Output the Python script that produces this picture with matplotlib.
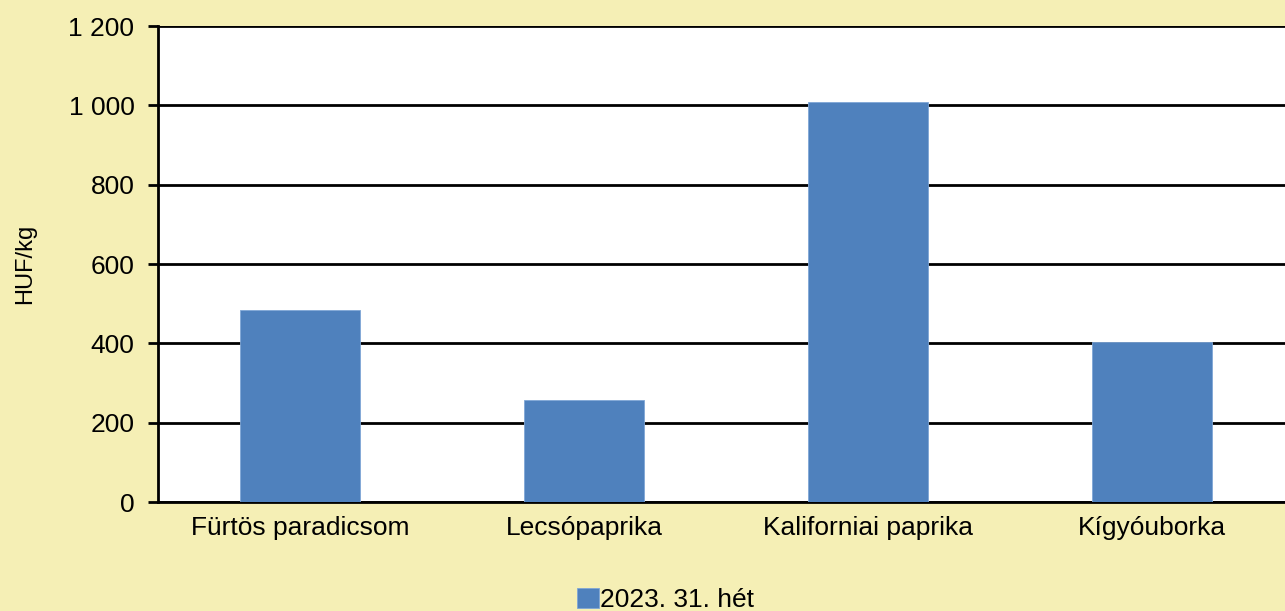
import matplotlib
matplotlib.use("Agg")
import matplotlib.pyplot as plt
from matplotlib.ticker import FuncFormatter

categories = ["Fürtös paradicsom", "Lecsópaprika", "Kaliforniai paprika", "Kígyóuborka"]
values = [484, 257, 1008, 403]
series_name = "2023. 31. hét"
y_ticks = [0, 200, 400, 600, 800, 1000, 1200]

bg = "#F5EFB5"
bar_color = "#4F81BD"

plt.rcParams['font.family'] = ['Liberation Sans', 'DejaVu Sans']

fig = plt.figure(figsize=(12.85, 6.11), dpi=100, facecolor=bg)
ax = fig.add_axes([158/1285, 109/611, 1136/1285, 476/611])
ax.set_facecolor("white")

x = list(range(len(categories)))
ax.bar(x, values, width=0.42, color=bar_color, edgecolor="#7FA6D6", linewidth=0.6,
       zorder=3, label=series_name)

ax.set_xlim(-0.5, len(categories) - 0.5)
ax.set_ylim(0, 1200)
ax.set_yticks(y_ticks)
ax.yaxis.set_major_formatter(FuncFormatter(lambda v, p: f"{int(v):,}".replace(",", " ")))
ax.grid(axis="y", color="black", linewidth=2.0, zorder=0)
ax.set_axisbelow(True)

ax.set_xticks(x)
ax.set_xticklabels(categories)
ax.tick_params(axis="x", length=0, pad=10, labelsize=19)
ax.tick_params(axis="y", length=7, width=2, pad=10, labelsize=19, direction="out")

for s in ["top", "right"]:
    ax.spines[s].set_visible(False)
for s in ["left", "bottom"]:
    ax.spines[s].set_linewidth(2)
    ax.spines[s].set_color("black")

ax.set_ylabel("HUF/kg", fontsize=17)
ax.yaxis.set_label_coords(-0.107, 0.5)

leg = fig.legend(loc="center", bbox_to_anchor=(0.518, 0.018), frameon=False,
                 fontsize=19, handlelength=0.8, handleheight=0.8, handletextpad=0.05)

fig.savefig("out.png", dpi=100, facecolor=bg)
